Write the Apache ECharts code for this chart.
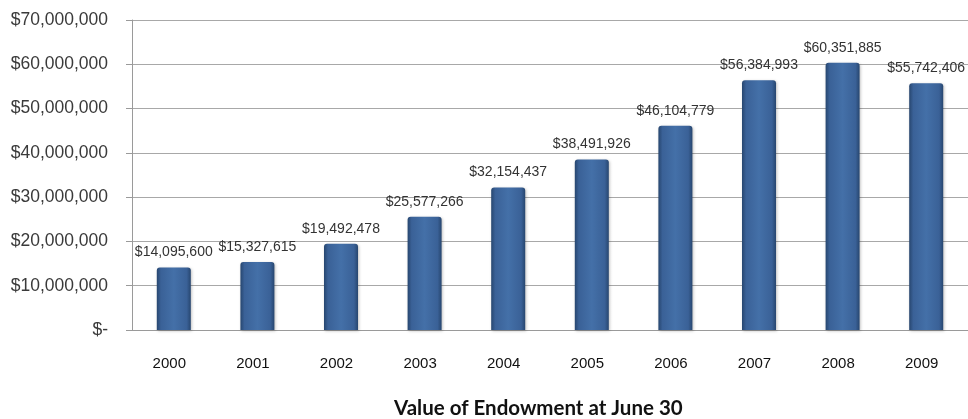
<!DOCTYPE html>
<html>
<head>
<meta charset="utf-8">
<script src="https://cdn.jsdelivr.net/npm/echarts@6/dist/echarts.min.js"></script>
<style>
html,body{margin:0;padding:0;background:#fff;}
#chart{width:968px;height:419px;}
</style>
</head>
<body>
<div id="chart"></div>
<script>
const years = ['2000','2001','2002','2003','2004','2005','2006','2007','2008','2009'];
const endowment = [14095600, 15327615, 19492478, 25577266, 32154437, 38491926, 46104779, 56384993, 60351885, 55742406];
const chartTitle = 'Value of Endowment at June 30';

function money(v){
  return '$' + String(Math.round(v)).replace(/\B(?=(\d{3})+(?!\d))/g, ',');
}
const FONT = "'Liberation Sans', Arial, sans-serif";

const chart = echarts.init(document.getElementById('chart'), null, {renderer:'canvas'});
chart.setOption({
  animation:false,
  backgroundColor:'#fff',
  title:{
    text: chartTitle,
    left:394,
    top:397,
    padding:0,
    textStyle:{fontFamily:'Lato', fontWeight:'bold', fontSize:20.5, color:'#111', lineHeight:22}
  },
  grid:{left:132, right:0, top:20, bottom:89, containLabel:false},
  xAxis:{
    type:'category',
    data: years,
    axisLine:{show:true, lineStyle:{color:'#9a9a9a', width:1}},
    axisTick:{show:false},
    axisLabel:{margin:26, color:'#111', fontFamily:FONT, fontSize:15, padding:[0,9,0,0]}
  },
  yAxis:{
    type:'value',
    min:0, max:70000000, interval:10000000,
    axisLine:{show:true, lineStyle:{color:'#9a9a9a', width:1}},
    axisTick:{show:true, length:6, lineStyle:{color:'#9a9a9a'}},
    splitLine:{show:true, lineStyle:{color:'#a8a8a8', width:1}},
    axisLabel:{
      margin:24, color:'#3a3a3a', fontFamily:FONT, fontSize:17.5,
      formatter:function(v){ return v===0 ? '$-' : money(v); }
    }
  },
  series:[{
    type:'bar',
    data: endowment,
    barWidth:34,
    itemStyle:{
      color:{type:'linear', x:0, y:0, x2:1, y2:0, colorStops:[
        {offset:0, color:'#27466f'},
        {offset:0.12, color:'#3a6197'},
        {offset:0.5, color:'#4470a8'},
        {offset:0.88, color:'#3a6197'},
        {offset:1, color:'#27466f'}
      ]},
      borderRadius:[3,3,0,0],
      shadowColor:'rgba(0,0,0,0.25)', shadowBlur:3, shadowOffsetX:1, shadowOffsetY:1
    },
    label:{
      show:true, position:'top', distance:8,
      color:'#333', fontFamily:FONT, fontSize:14,
      formatter:function(p){ return money(p.value); }
    }
  }]
});
</script>
</body>
</html>
